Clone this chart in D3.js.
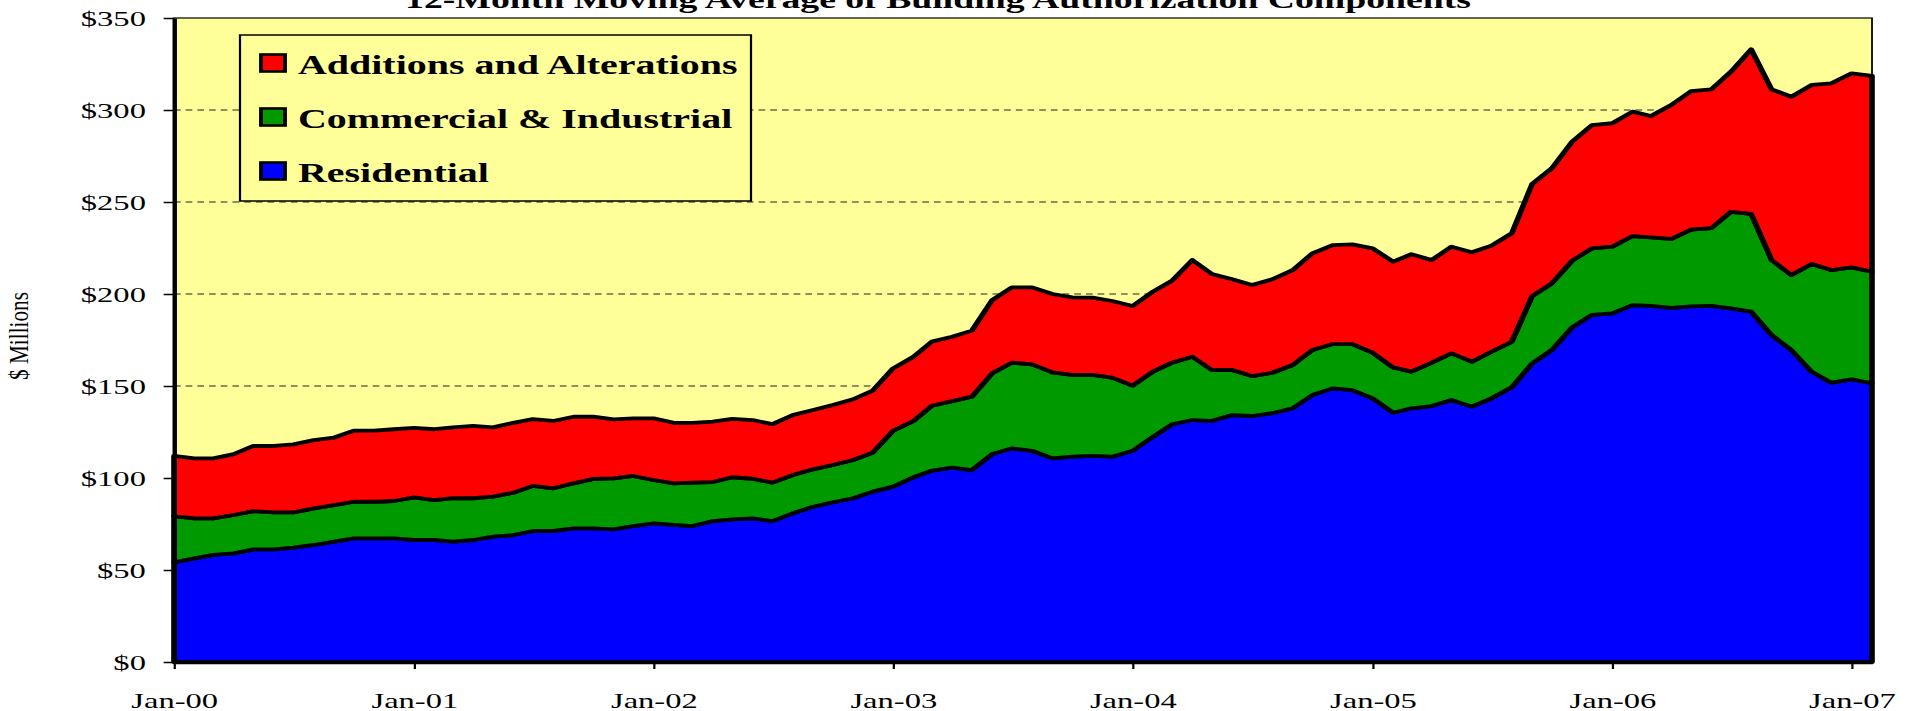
<!DOCTYPE html>
<html>
<head>
<meta charset="utf-8">
<script src="https://cdn.jsdelivr.net/npm/d3@7"></script>
<style>
  body { margin: 0; background: #fff; }
  svg { display: block; font-family: "Times New Roman", "Liberation Serif", serif; }
</style>
</head>
<body>
<div id="canvas"></div>
<script>
// Datos: promedio movil de 12 meses ($ millones), ene-2000 a feb-2007
const residential = [
  54.2, 56.3, 58.2, 59.0, 61.2, 61.2, 62.1, 63.6, 65.4, 67.2, 67.2, 67.2,
  66.3, 66.3, 65.4, 66.3, 68.1, 69.0, 71.2, 71.2, 72.6, 72.6, 72.1, 73.9,
  75.4, 74.5, 73.9, 76.6, 77.5, 78.1, 76.6, 80.8, 84.4, 86.8, 89.0, 92.6,
  95.3, 100.4, 104.0, 105.6, 104.3, 113.0, 116.1, 114.8, 110.7, 111.6, 112.0, 111.6,
  114.8, 122.4, 129.2, 131.5, 131.1, 134.2, 133.7, 135.2, 137.9, 145.1, 148.7, 147.8,
  143.3, 135.5, 137.9, 139.1, 142.4, 138.8, 143.3, 149.3, 162.3, 169.6, 181.9, 188.6,
  189.5, 194.0, 193.5, 192.5, 193.3, 193.5, 192.2, 190.4, 177.7, 169.6, 157.8, 151.8,
  153.6, 151.5
];
const commercial = [
  25.1, 21.8, 19.9, 20.9, 20.8, 20.1, 19.2, 19.9, 19.9, 19.9, 19.9, 20.3,
  23.2, 21.7, 23.6, 22.7, 21.8, 23.0, 24.5, 23.2, 24.5, 26.9, 27.7, 27.2,
  23.5, 22.6, 23.6, 21.2, 22.9, 21.5, 20.9, 20.8, 20.3, 20.3, 20.8, 21.2,
  30.4, 30.6, 35.3, 36.2, 39.9, 43.9, 46.6, 47.0, 46.7, 44.4, 44.0, 42.9,
  35.4, 35.4, 33.5, 34.4, 27.6, 24.5, 21.7, 22.0, 23.5, 24.5, 24.1, 25.0,
  24.8, 24.6, 19.9, 23.6, 25.4, 24.4, 25.3, 24.8, 36.6, 36.2, 36.2, 36.2,
  36.2, 37.5, 37.3, 37.4, 41.7, 42.3, 52.5, 53.1, 40.8, 40.7, 58.5, 61.2,
  60.9, 60.6
];
const additions = [
  32.7, 32.6, 32.6, 33.1, 35.4, 36.1, 37.0, 37.1, 36.7, 38.6, 38.6, 39.0,
  37.7, 38.5, 38.5, 39.3, 37.6, 38.0, 36.3, 36.6, 36.2, 33.8, 32.1, 31.3,
  33.5, 32.9, 32.5, 32.8, 31.7, 31.9, 31.8, 32.6, 32.3, 32.6, 33.0, 33.7,
  33.9, 34.9, 34.8, 35.0, 35.9, 39.8, 40.9, 41.8, 42.6, 42.2, 42.0, 41.7,
  43.3, 43.5, 44.5, 52.6, 52.2, 49.3, 49.5, 50.8, 51.6, 52.5, 53.8, 54.2,
  56.7, 57.5, 63.8, 55.8, 57.9, 59.5, 57.7, 58.9, 60.9, 62.5, 64.7, 67.0,
  67.1, 67.6, 65.9, 72.8, 75.2, 75.4, 76.1, 89.5, 92.7, 96.9, 97.3, 101.5,
  105.4, 106.4
];
const seriesKeys = ["residential", "commercial", "additions"];
const seriesNames = ["Additions and Alterations", "Commercial & Industrial", "Residential"];
const tickLabels = ["Jan-00", "Jan-01", "Jan-02", "Jan-03", "Jan-04", "Jan-05", "Jan-06", "Jan-07"];
const yTicks = [0, 50, 100, 150, 200, 250, 300, 350];

// Meses de la serie (categorias)
const months = d3.timeMonth.range(new Date(2000, 0, 1), new Date(2007, 2, 1));

const colors = { residential: "#0000ff", commercial: "#009900", additions: "#ff0000" };
const legendColors = ["#ff0000", "#009900", "#0000ff"];

// Caracteristicas del lienzo (la grafica original esta estirada en horizontal)
const width = 1912;
const height = 711;
const sx = 1.48;
const pLeft = 174 / sx, pRight = 1872 / sx, pTop = 18, pBottom = 662;

const svg = d3.select("#canvas").append("svg")
  .attr("width", width)
  .attr("height", height);

const g = svg.append("g").attr("transform", `scale(${sx},1)`);

const table = months.map((d, i) => ({
  date: d,
  residential: residential[i],
  commercial: commercial[i],
  additions: additions[i]
}));

const x = d3.scaleTime()
  .domain([months[0], months[months.length - 1]])
  .range([pLeft, pRight]);

const y = d3.scaleLinear()
  .domain([0, 350])
  .range([pBottom, pTop]);

// Area del grafico
g.append("rect")
  .attr("x", pLeft).attr("y", pTop)
  .attr("width", pRight - pLeft).attr("height", pBottom - pTop)
  .attr("fill", "#ffff99")
  .attr("stroke", "#000").attr("stroke-width", 1.2);

// Lineas de division
g.append("g").selectAll("line")
  .data(yTicks.filter(d => d > 0 && d < 350))
  .enter().append("line")
  .attr("x1", pLeft).attr("x2", pRight)
  .attr("y1", d => y(d)).attr("y2", d => y(d))
  .attr("stroke", "#222")
  .attr("stroke-width", 1.2)
  .attr("stroke-dasharray", "4.5,3.4");

// Areas apiladas
const stack = d3.stack().keys(seriesKeys);
const layers = stack(table);

const area = d3.area()
  .x(d => x(d.data.date))
  .y0(d => y(d[0]))
  .y1(d => y(d[1]));

g.append("g").selectAll("path")
  .data(layers)
  .enter().append("path")
  .attr("d", area)
  .attr("fill", d => colors[d.key])
  .attr("stroke", "#000")
  .attr("stroke-width", 3.8)
  .attr("stroke-linejoin", "round");

// Eje y
const yAxis = g.append("g")
  .attr("transform", `translate(${pLeft},0)`)
  .call(d3.axisLeft(y).tickValues(yTicks).tickFormat(d => "$" + d).tickSize(7).tickPadding(12).tickSizeOuter(0));
yAxis.select(".domain").attr("stroke-width", 3);
yAxis.selectAll(".tick line").attr("stroke-width", 1.5);
yAxis.selectAll("text")
  .attr("font-family", "\"Times New Roman\", \"Liberation Serif\", serif")
  .attr("font-size", 22)
  .attr("fill", "#000");

// Eje x
const parseTick = d3.timeParse("%b-%y");
const xAxis = g.append("g")
  .attr("transform", `translate(0,${pBottom})`)
  .call(d3.axisBottom(x).tickValues(tickLabels.map(parseTick)).tickFormat(d3.timeFormat("%b-%y")).tickSize(7).tickPadding(23).tickSizeOuter(0));
xAxis.select(".domain").attr("stroke-width", 3.5);
xAxis.selectAll(".tick line").attr("stroke-width", 1.5);
xAxis.selectAll("text")
  .attr("font-family", "\"Times New Roman\", \"Liberation Serif\", serif")
  .attr("font-size", 22)
  .attr("fill", "#000");

// Titulo (cortado en la parte superior, como en la original)
g.append("text")
  .attr("x", 938 / sx)
  .attr("y", 8)
  .attr("text-anchor", "middle")
  .attr("font-weight", "bold")
  .attr("font-size", 25.5)
  .text("12-Month Moving Average of Building Authorization Components");

// Titulo del eje y
g.append("text")
  .attr("transform", `translate(${28 / sx},336) rotate(-90)`)
  .attr("text-anchor", "middle")
  .attr("font-size", 18)
  .attr("textLength", 88)
  .attr("lengthAdjust", "spacingAndGlyphs")
  .text("$ Millions");

// Leyenda
const legend = g.append("g");
legend.append("rect")
  .attr("x", 240 / sx).attr("y", 35)
  .attr("width", (751 - 240) / sx).attr("height", 166)
  .attr("fill", "#ffff99")
  .attr("stroke", "#000").attr("stroke-width", 1.5);

const rows = legend.selectAll("g.row")
  .data(seriesNames)
  .enter().append("g")
  .attr("class", "row")
  .attr("transform", (d, i) => `translate(0,${63 + i * 54})`);

rows.append("rect")
  .attr("x", 261 / sx).attr("y", -8.5)
  .attr("width", 24 / sx).attr("height", 17)
  .attr("fill", (d, i) => legendColors[i])
  .attr("stroke", "#000").attr("stroke-width", 2.6);

rows.append("text")
  .attr("x", 298 / sx)
  .attr("y", 10.5)
  .attr("font-weight", "bold")
  .attr("font-size", 27)
  .text(d => d);
</script>
</body>
</html>
